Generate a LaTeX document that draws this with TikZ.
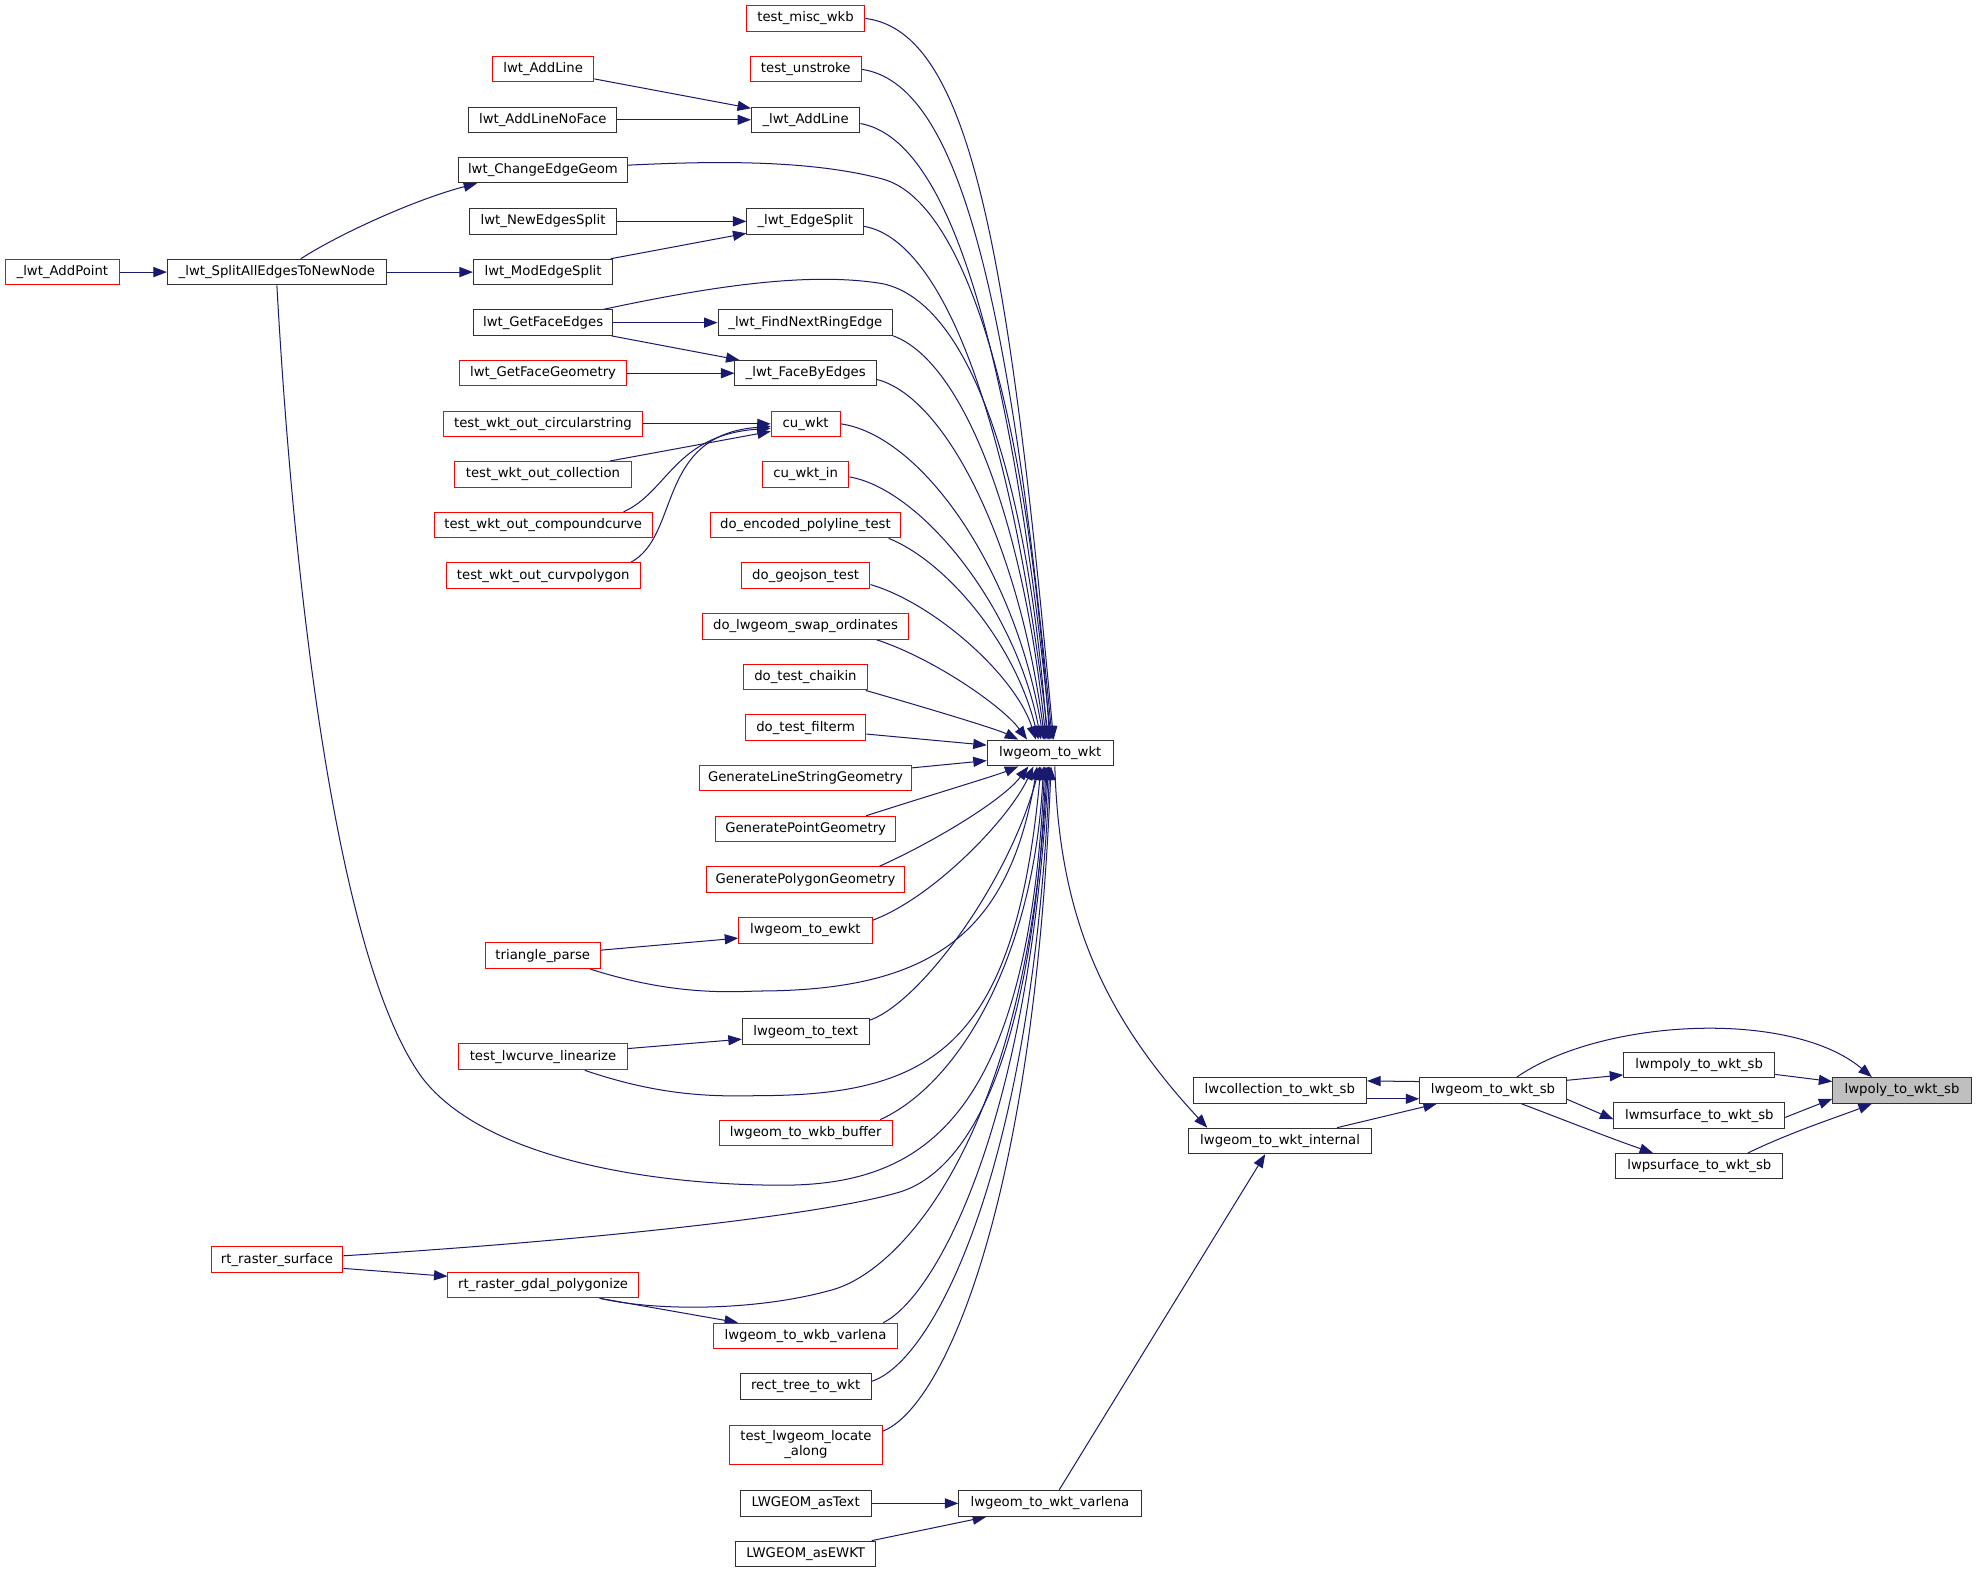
\documentclass[tikz,border=0pt]{standalone}
\usepackage{fontspec}
\setmainfont{DejaVu Sans}
\usetikzlibrary{arrows.meta,calc,backgrounds}
\definecolor{edgecol}{RGB}{25,25,112}
\definecolor{boxline}{RGB}{50,50,50}
\newcommand\bx[7]{\node[#1, minimum width={(#4-#3)*0.75pt}, minimum height={(#6-#5)*0.75pt}] (#2) at ({(#3+#4)/2},{(#5+#6)/2}) {#7};}
\tikzset{
  box/.style={draw=boxline, line width=0.6pt, fill=white, inner sep=0pt, text=black, font=\fontsize{7.875pt}{9pt}\selectfont},
  redbox/.style={box, draw=red},
  blkbox/.style={box},
  graybox/.style={box, fill=black!25},
  edge/.style={draw=edgecol, line width=0.6pt, -{Triangle[length=8pt,width=6pt]}},
}
\begin{document}
\begin{tikzpicture}[x=0.75pt,y=-0.75pt]
\useasboundingbox (0,0) rectangle (1568,1247.6);
% left column
\bx{redbox}{addpoint}{4}{95}{205.6}{226}{\_lwt\_AddPoint}
\bx{blkbox}{split}{132.8}{306.4}{205.6}{226}{\_lwt\_SplitAllEdgesToNewNode}
\bx{redbox}{addline}{390.5}{471}{45}{65}{lwt\_AddLine}
\bx{blkbox}{addlinenf}{371.8}{489.3}{85}{105}{lwt\_AddLineNoFace}
\bx{blkbox}{chgeom}{363.5}{497.7}{125}{145}{lwt\_ChangeEdgeGeom}
\bx{blkbox}{newsplit}{372.5}{489}{165.5}{185.6}{lwt\_NewEdgesSplit}
\bx{blkbox}{modsplit}{375.5}{486}{205.6}{226}{lwt\_ModEdgeSplit}
\bx{blkbox}{getfe}{375.5}{486}{245.8}{266}{lwt\_GetFaceEdges}
\bx{redbox}{getfg}{364.5}{497}{286}{306}{lwt\_GetFaceGeometry}
\bx{redbox}{circ}{351.9}{509.4}{326}{346.3}{test\_wkt\_out\_circularstring}
\bx{redbox}{coll}{360.7}{500.5}{366}{386.5}{test\_wkt\_out\_collection}
\bx{redbox}{comp}{344.5}{517.2}{406.3}{426.6}{test\_wkt\_out\_compoundcurve}
\bx{redbox}{curvp}{354}{507.7}{446.5}{466.8}{test\_wkt\_out\_curvpolygon}
\bx{redbox}{tri}{384.9}{476.1}{747.8}{768.2}{triangle\_parse}
\bx{redbox}{tlin}{364}{497.4}{828}{848.5}{test\_lwcurve\_linearize}
\bx{redbox}{rsurf}{167.5}{271.9}{989}{1009}{rt\_raster\_surface}
\bx{redbox}{gdal}{355.3}{506.2}{1009.2}{1029.3}{rt\_raster\_gdal\_polygonize}
% middle column
\bx{redbox}{tmw}{591.8}{686}{4.5}{24.8}{test\_misc\_wkb}
\bx{redbox}{tun}{595}{683}{45}{65}{test\_unstroke}
\bx{blkbox}{uaddline}{596}{682}{85}{105}{\_lwt\_AddLine}
\bx{blkbox}{uesplit}{592.4}{685}{165.5}{185.6}{\_lwt\_EdgeSplit}
\bx{blkbox}{unext}{569.5}{708}{245.8}{266}{\_lwt\_FindNextRingEdge}
\bx{blkbox}{uface}{582.9}{695.2}{286}{306}{\_lwt\_FaceByEdges}
\bx{redbox}{cuwkt}{611.7}{666.3}{326}{346.3}{cu\_wkt}
\bx{redbox}{cuwktin}{604.6}{673.3}{366}{386.5}{cu\_wkt\_in}
\bx{redbox}{dep}{563.3}{714.4}{406.3}{426.6}{do\_encoded\_polyline\_test}
\bx{redbox}{dgj}{588}{690}{446.5}{466.8}{do\_geojson\_test}
\bx{redbox}{dswap}{556.9}{720.8}{486.6}{507}{do\_lwgeom\_swap\_ordinates}
\bx{redbox}{dchai}{589.4}{688.2}{526.8}{547.2}{do\_test\_chaikin}
\bx{redbox}{dfilt}{591.2}{686.7}{567}{587.4}{do\_test\_filterm}
\bx{redbox}{gls}{554.7}{723}{607}{627}{GenerateLineStringGeometry}
\bx{redbox}{gpt}{567.5}{710.5}{647.4}{667.7}{GeneratePointGeometry}
\bx{redbox}{gpoly}{560}{717.6}{687.5}{707.9}{GeneratePolygonGeometry}
\bx{redbox}{ewkt}{585.9}{691.7}{727.7}{748}{lwgeom\_to\_ewkt}
\bx{blkbox}{text}{588.7}{689.3}{808}{828.4}{lwgeom\_to\_text}
\bx{redbox}{wkbbuf}{570.3}{707.7}{888.4}{908.8}{lwgeom\_to\_wkb\_buffer}
\bx{redbox}{wkbvar}{565.7}{712.1}{1049.4}{1069.5}{lwgeom\_to\_wkb\_varlena}
\bx{blkbox}{rect}{587}{691}{1089.3}{1109.7}{rect\_tree\_to\_wkt}
\bx{redbox,align=center}{locate}{578.4}{700}{1130.3}{1161.7}{test\_lwgeom\_locate\\\_along}
\bx{blkbox}{astext}{587}{691}{1182}{1202.7}{LWGEOM\_asText}
\bx{blkbox}{asewkt}{583.4}{694.7}{1222.3}{1242.6}{LWGEOM\_asEWKT}
% right part
\bx{blkbox}{w}{783}{883}{587}{607.5}{lwgeom\_to\_wkt}
\bx{blkbox}{wvar}{760.5}{905}{1182}{1202.7}{lwgeom\_to\_wkt\_varlena}
\bx{blkbox}{coll2}{946.2}{1083.9}{854.6}{875}{lwcollection\_to\_wkt\_sb}
\bx{blkbox}{internal}{942.9}{1087.6}{894.8}{915}{lwgeom\_to\_wkt\_internal}
\bx{blkbox}{sb}{1126}{1242.3}{854.6}{875}{lwgeom\_to\_wkt\_sb}
\bx{blkbox}{mpoly}{1287.8}{1407.6}{834.5}{854.6}{lwmpoly\_to\_wkt\_sb}
\bx{blkbox}{msurf}{1280}{1415.5}{874.7}{894.8}{lwmsurface\_to\_wkt\_sb}
\bx{blkbox}{psurf}{1281.5}{1414}{914.9}{935}{lwpsurface\_to\_wkt\_sb}
\bx{graybox}{poly}{1453.6}{1563.5}{854.6}{875}{lwpoly\_to\_wkt\_sb}

\begin{scope}[on background layer]
\fill[white] (0,0) rectangle (1568,1247.6);
% into lwgeom_to_wkt from above
\draw[edge] (tmw.east) .. controls (770,25) and (800,200) .. ($(w.north west)+(53,0)$);
\draw[edge] (tun.east) .. controls (760,66) and (800,230) .. ($(w.north west)+(52,0)$);
\draw[edge] ($(uaddline.east)+(0,3)$) .. controls (750,110) and (800,260) .. ($(w.north west)+(51,0)$);
\draw[edge] ($(chgeom.east)+(0,-4)$) .. controls (560,128) and (640,126) .. (700,142) .. controls (760,158) and (812,300) .. ($(w.north west)+(50,0)$);
\draw[edge] ($(uesplit.east)+(0,4)$) .. controls (745,190) and (800,320) .. ($(w.north west)+(49,0)$);
\draw[edge] ($(getfe.north east)+(-8,0)$) .. controls (560,228) and (640,215) .. (700,225) .. controls (770,240) and (815,380) .. ($(w.north west)+(48,0)$);
\draw[edge] (unext.south east) .. controls (760,285) and (810,400) .. ($(w.north west)+(47,0)$);
\draw[edge] ($(uface.east)+(0,5)$) .. controls (750,315) and (808,430) .. ($(w.north west)+(46,0)$);
\draw[edge] (cuwkt.east) .. controls (730,345) and (805,450) .. ($(w.north west)+(45,0)$);
\draw[edge] ($(cuwktin.east)+(0,2)$) .. controls (730,388) and (805,480) .. ($(w.north west)+(43,0)$);
\draw[edge] ($(dep.south east)+(-10,0)$) .. controls (750,445) and (805,510) .. ($(w.north west)+(41,0)$);
\draw[edge] ($(dgj.east)+(0,7)$) .. controls (740,478) and (805,535) .. ($(w.north west)+(39,0)$);
\draw[edge] ($(dswap.south east)+(-26,0)$) .. controls (740,522) and (795,560) .. ($(w.north west)+(32,0)$);
\draw[edge] ($(dchai.south east)+(-2,0)$) .. controls (730,560) and (790,578) .. ($(w.north west)+(25,0)$);
\draw[edge] ($(dfilt.east)+(0,5)$) -- ($(w.west)+(0,-6.25)$);
\draw[edge] ($(gls.east)+(0,-8)$) -- ($(w.west)+(0,6)$);
% into lwgeom_to_wkt from below
\draw[edge] ($(gpt.north east)+(-24,0)$) .. controls (740,630) and (790,615) .. ($(w.south west)+(25,0)$);
\draw[edge] ($(gpoly.north east)+(-20.6,0)$) .. controls (740,668) and (795,635) .. ($(w.south west)+(33,0)$);
\draw[edge] ($(ewkt.east)+(0,-8)$) .. controls (740,712) and (800,650) .. ($(w.south west)+(37,0)$);
\draw[edge] ($(tri.south east)+(-8.5,0)$) .. controls (520,785) and (560,788) .. (600,786) .. controls (740,786) and (800,740) .. ($(w.south west)+(40,0)$);
\draw[edge] ($(text.east)+(0,-9)$) .. controls (730,795) and (800,700) .. ($(w.south west)+(42,0)$);
\draw[edge] ($(tlin.south east)+(-34,0)$) .. controls (520,868) and (560,870) .. (600,869) .. controls (740,869) and (805,830) .. ($(w.south west)+(43,0)$);
\draw[edge] ($(wkbbuf.north east)+(-10,0)$) .. controls (760,860) and (820,760) .. ($(w.south west)+(45,0)$);
\draw[edge] (split.south) .. controls (232,450) and (265,760) .. (335,855) .. controls (385,920) and (520,940) .. (620,940) .. controls (730,940) and (815,890) .. ($(w.south west)+(46,0)$);
\draw[edge] ($(rsurf.east)+(0,-3)$) .. controls (450,985) and (650,965) .. (715,945) .. controls (760,930) and (818,860) .. ($(w.south west)+(47,0)$);
\draw[edge] ($(gdal.south east)+(-31,0)$) .. controls (520,1040) and (600,1040) .. (660,1023) .. controls (715,1008) and (815,900) .. ($(w.south west)+(48,0)$);
\draw[edge] ($(wkbvar.north east)+(-12,0)$) .. controls (740,1030) and (815,900) .. ($(w.south west)+(49,0)$);
\draw[edge] ($(rect.east)+(0,-4)$) .. controls (740,1080) and (818,930) .. ($(w.south west)+(50,0)$);
\draw[edge] ($(locate.east)+(0,-11)$) .. controls (750,1115) and (820,950) .. ($(w.south west)+(51,0)$);
% lower left
\draw[edge] ($(gdal.south east)+(-31,0)$) -- ($(wkbvar.north west)+(20,0)$);
\draw[edge] ($(rsurf.east)+(0,7)$) -- ($(gdal.west)+(0,-7)$);
% lwgeom_to_wkt_internal and right part
\draw[edge] ($(w.south west)+(54,0)$) .. controls (840,720) and (870,800) .. ($(internal.north west)+(15,0)$);
\draw[edge] ($(wvar.north west)+(80,0)$) -- ($(internal.south west)+(61,0)$);
\draw[edge] (astext.east) -- (wvar.west);
\draw[edge] ($(asewkt.north east)+(-3.7,0)$) -- ($(wvar.south west)+(22,0)$);
\draw[edge] ($(internal.north east)+(-27.6,0)$) -- ($(sb.south west)+(14,0)$);
\draw[edge] ($(sb.west)+(0,-7)$) -- ($(coll2.east)+(0,-7.5)$);
\draw[edge] ($(coll2.east)+(0,6.7)$) -- ($(sb.west)+(0,6.7)$);
\draw[edge] ($(sb.east)+(0,-8)$) -- ($(mpoly.west)+(0,8)$);
\draw[edge] ($(sb.east)+(0,7)$) -- ($(msurf.west)+(0,3)$);
\draw[edge] ($(sb.south west)+(81,0)$) .. controls (1240,888) and (1275,902) .. ($(psurf.north west)+(30,0)$);
\draw[edge] ($(sb.north west)+(77.5,0)$) .. controls (1270,808) and (1420,800) .. ($(poly.north west)+(31.4,0)$);
\draw[edge] ($(mpoly.east)+(0,7.6)$) -- ($(poly.west)+(0,-7)$);
\draw[edge] ($(msurf.east)+(0,1.5)$) -- ($(poly.west)+(0,6.7)$);
\draw[edge] ($(psurf.north east)+(-28.2,0)$) .. controls (1420,898) and (1460,885) .. ($(poly.south west)+(31.4,0)$);
% topology nodes
\draw[edge] (addpoint.east) -- (split.west);
\draw[edge] ($(split.north)+(19,0)$) .. controls (270,185) and (330,158) .. ($(chgeom.south west)+(15.3,0)$);
\draw[edge] (split.east) -- (modsplit.west);
\draw[edge] ($(addline.east)+(0,7.6)$) -- ($(uaddline.west)+(0,-9.1)$);
\draw[edge] (addlinenf.east) -- (uaddline.west);
\draw[edge] (newsplit.east) -- (uesplit.west);
\draw[edge] ($(modsplit.north east)+(-2,0)$) -- ($(uesplit.west)+(0,9.5)$);
\draw[edge] (getfe.east) -- (unext.west);
\draw[edge] ($(getfe.south east)+(-1.4,0)$) -- ($(uface.north west)+(4,0)$);
\draw[edge] (getfg.east) -- (uface.west);
% cu_wkt callers
\draw[edge] (circ.east) -- (cuwkt.west);
\draw[edge] ($(coll.north east)+(-17,0)$) -- ($(cuwkt.west)+(0,6)$);
\draw[edge] ($(comp.north east)+(-23,0)$) .. controls (530,390) and (535,345) .. ($(cuwkt.west)+(0,3.5)$);
\draw[edge] ($(curvp.north east)+(-8,0)$) .. controls (540,425) and (520,345) .. ($(cuwkt.west)+(0,2)$);
% others
\draw[edge] ($(tri.east)+(0,-4.4)$) -- ($(ewkt.west)+(0,6.2)$);
\draw[edge] ($(tlin.east)+(0,-6.6)$) -- ($(text.west)+(0,6)$);
\end{scope}
\end{tikzpicture}
\end{document}
